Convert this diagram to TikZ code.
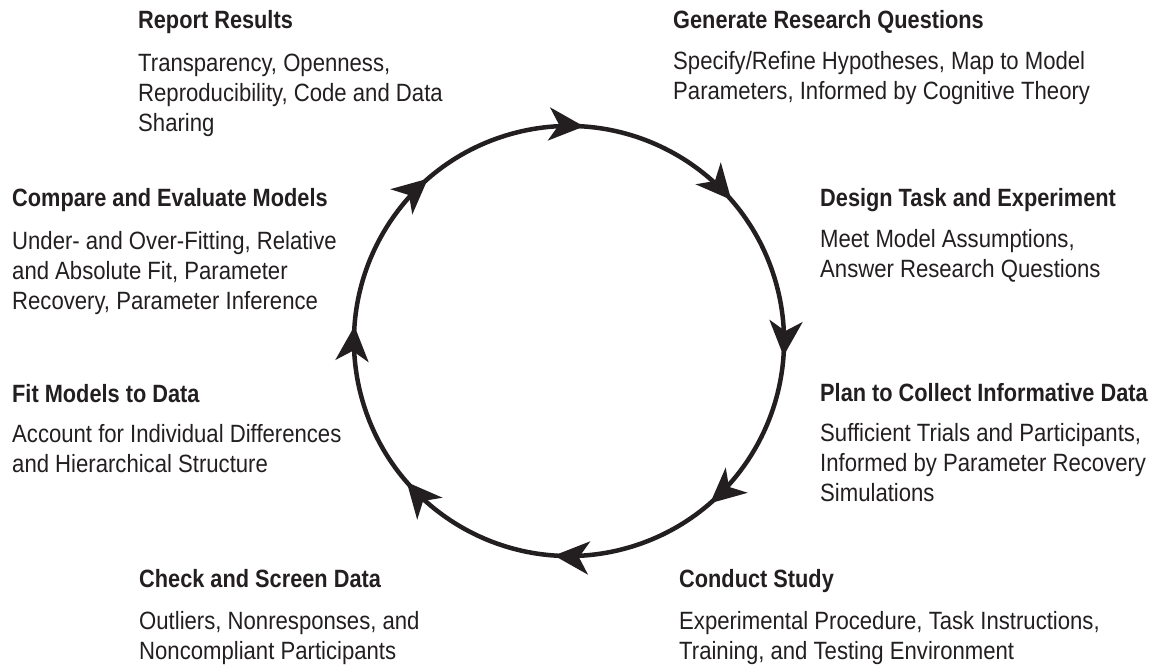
\documentclass[tikz,border=0pt]{standalone}
\usepackage{fontspec}
\setmainfont{Liberation Sans}[FakeStretch=0.87]
\newfontfamily\bodyfont{Liberation Sans}[FakeStretch=0.885]
\usetikzlibrary{arrows.meta,decorations.markings}
\definecolor{ink}{HTML}{231F20}
\begin{document}
\begin{tikzpicture}[x=1pt,y=1pt,
  title/.style={anchor=base west, inner sep=0pt, font=\fontsize{25}{30}\selectfont\bfseries, text=ink},
  body/.style={anchor=base west, inner sep=0pt, align=left, font=\bodyfont\fontsize{25}{30.3}\selectfont, text=ink},
  cyc/.style={line width=4.5pt, draw=ink, postaction=decorate,
    decoration={markings, mark=between positions 0.0625 and 1 step 0.125 with
      {\arrow[ink]{Stealth[length=35pt, width=33pt, inset=10pt]}}}}]
\useasboundingbox (0,0) rectangle (1159,668);
% cycle
\coordinate (c) at (569,327);
\draw[cyc] (c) ++(108.5:215) arc[start angle=108.5, end angle=-251.5, radius=215];
% labels (body nodes are anchored at the baseline of their last line)
\node[title] (rr) at (138,639) {Report Results};
\node[body] (rrb) at (138,536) {Transparency, Openness,\\Reproducibility, Code and Data\\Sharing};
\node[title] (gq) at (673,639) {Generate Research Questions};
\node[body] (gqb) at (673,568) {Specify/Refine Hypotheses, Map to Model\\Parameters, Informed by Cognitive Theory};
\node[title] (ce) at (12,461) {Compare and Evaluate Models};
\node[body] (ceb) at (12,358) {Under- and Over-Fitting, Relative\\and Absolute Fit, Parameter\\Recovery, Parameter Inference};
\node[title] (dt) at (820,461) {Design Task and Experiment};
\node[body] (dtb) at (820,390) {Meet Model Assumptions,\\Answer Research Questions};
\node[title] (fm) at (12,265) {Fit Models to Data};
\node[body] (fmb) at (12,195) {Account for Individual Differences\\and Hierarchical Structure};
\node[title] (pc) at (820,266) {Plan to Collect Informative Data};
\node[body] (pcb) at (820,166) {Sufficient Trials and Participants,\\Informed by Parameter Recovery\\Simulations};
\node[title] (cs) at (139,80) {Check and Screen Data};
\node[body] (csb) at (139,8) {Outliers, Nonresponses, and\\Noncompliant Participants};
\node[title] (st) at (679,80) {Conduct Study};
\node[body] (stb) at (679,8) {Experimental Procedure, Task Instructions,\\Training, and Testing Environment};
\end{tikzpicture}
\end{document}
